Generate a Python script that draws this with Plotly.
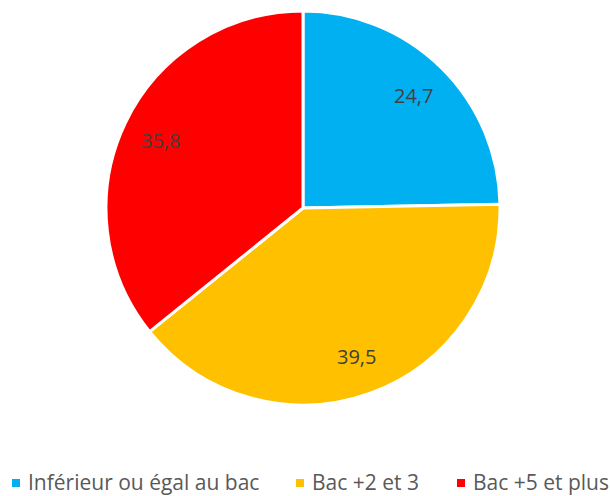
import math
import plotly.graph_objects as go

categories = ["Inférieur ou égal au bac", "Bac +2 et 3", "Bac +5 et plus"]
values = [24.7, 39.5, 35.8]
colors = ["#00B0F0", "#FFC000", "#FF0000"]

W, H = 610, 496
cx, cy, R = 303, 208, 197  # pie centre and radius in pixels

dom_x = [(cx - R) / W, (cx + R) / W]
dom_y = [1 - (cy + R) / H, 1 - (cy - R) / H]

fig = go.Figure(go.Pie(
    labels=categories,
    values=values,
    sort=False,
    direction="clockwise",
    rotation=0,
    marker=dict(colors=colors, line=dict(color="white", width=3)),
    textinfo="none",
    hoverinfo="label+value",
    domain=dict(x=dom_x, y=dom_y),
    showlegend=False,
))

# value labels placed at 0.8 of the radius, mid-angle of each slice
total = sum(values)
annotations = []
cum = 0.0
for v in values:
    mid = (cum + v / 2) / total * 2 * math.pi
    cum += v
    px = cx + 0.8 * R * math.sin(mid)
    py = cy - 0.8 * R * math.cos(mid)
    annotations.append(dict(
        x=px / W, y=1 - py / H, xref="paper", yref="paper",
        xanchor="center", yanchor="middle",
        text=f"{v:.1f}".replace(".", ","), showarrow=False,
        font=dict(size=20, color="#404040", family="Open Sans"),
    ))

# legend row: coloured square + label for each category
legend_x = [12, 296, 457]
legend_y = 483
shapes = []
for name, col, lx in zip(categories, colors, legend_x):
    shapes.append(dict(
        type="rect", xref="paper", yref="paper",
        x0=lx / W, x1=(lx + 8) / W,
        y0=1 - (legend_y + 4) / H, y1=1 - (legend_y - 4) / H,
        fillcolor=col, line=dict(width=0),
    ))
    annotations.append(dict(
        x=(lx + 15) / W, y=1 - (legend_y - 1) / H, xref="paper", yref="paper",
        xanchor="left", yanchor="middle", showarrow=False, borderpad=0,
        text=name, font=dict(size=21, color="#595959", family="Open Sans"),
    ))

fig.update_layout(
    width=W, height=H,
    margin=dict(l=0, r=0, t=0, b=0, autoexpand=False),
    paper_bgcolor="white",
    annotations=annotations,
    shapes=shapes,
)

fig.write_html("out.html")
